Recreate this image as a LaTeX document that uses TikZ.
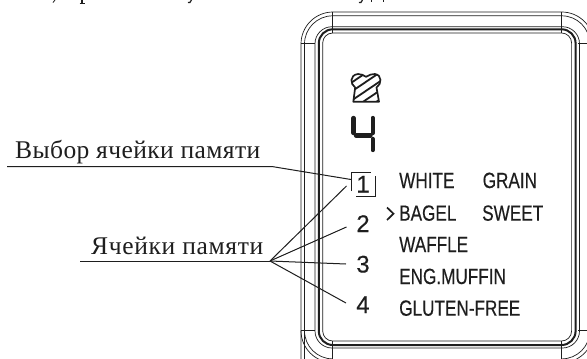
\documentclass[tikz,border=0pt]{standalone}
\usepackage{fontspec}
\setmainfont{Liberation Serif}
\setsansfont{Liberation Sans}
\newfontfamily\narrowfont[FakeStretch=0.78,FakeBold=0.3]{Liberation Sans}
\newfontfamily\digitfont[FakeBold=0.2]{Liberation Sans}
\newfontfamily\calloutA[LetterSpace=1.6]{Liberation Serif}
\newfontfamily\calloutB[LetterSpace=2.6]{Liberation Serif}
\definecolor{ink}{HTML}{1E1E1E}
\tikzset{
  thinl/.style={draw=ink,line width=0.7pt},
  thickl/.style={draw=ink,line width=2pt},
  leader/.style={draw=ink,line width=1pt},
  callout/.style={text=ink,inner sep=0pt,anchor=base west},
  digitlabel/.style={font=\digitfont\fontsize{24}{24}\selectfont,text=ink,inner sep=0pt,anchor=base},
  menu/.style={font=\narrowfont\fontsize{22}{22}\selectfont,text=ink,inner sep=0pt,anchor=base west},
  seg/.style={draw=ink,line width=4.4pt,line cap=round}
}
\begin{document}
\begin{tikzpicture}[x=1pt,y=-1pt]
\useasboundingbox (0,0) rectangle (587,359);
\clip (0,0) rectangle (587,359);
\fill[white] (0,0) rectangle (587,359);
% clipped text line above the picture
\draw[ink,line width=0.8pt] (53,2.5) -- (55,0);
\draw[ink,line width=1.2pt] (82,0) -- (82,2.6);
\draw[ink,line width=0.7pt] (79.5,3) -- (84.5,3);
\draw[ink,line width=1.2pt] (188,2.6) .. controls (190,2.8) .. (191.5,0);
\draw[ink,line width=1.2pt] (359,2.6) .. controls (361,2.8) .. (362.5,0);
\draw[ink,line width=0.7pt] (371,0) -- (371,1.5) (383,0) -- (383,1.5);
% case: outer pair of lines
\draw[thinl] (301,359) -- (301,44) arc[start angle=180,end angle=270,radius=32] -- (561.7,12) arc[start angle=270,end angle=360,radius=32] -- (593.7,330.7) arc[start angle=0,end angle=90,radius=32];
\draw[thinl] (304.5,359) -- (304.5,44) arc[start angle=180,end angle=270,radius=28.2] -- (561.7,15.8) arc[start angle=270,end angle=360,radius=28.2] -- (589.9,330.7) arc[start angle=0,end angle=90,radius=28.2];
\draw[thinl] (301,330.7) arc[start angle=180,end angle=90,radius=31.7];
\draw[thinl] (304.5,330.7) arc[start angle=180,end angle=90,radius=28.2];
% section lines
\draw[thinl] (301,43.5) -- (315,43.5) (332.7,12) -- (332.7,33);
\draw[thinl] (561.7,12) -- (561.7,33) (578,43.5) -- (587,43.5);
\draw[thinl] (301,330.7) -- (315,330.7) (332.7,341) -- (332.7,359);
\draw[thinl] (578,330.7) -- (587,330.7) (561.7,341) -- (561.7,359);
% case: inner lines
\draw[thinl,rounded corners=17pt] (315,26.7) rectangle (579.5,348);
\draw[thickl,rounded corners=14pt] (318.8,29.3) rectangle (575.6,345);
\draw[thinl,rounded corners=10pt] (322.7,33) rectangle (571.6,341);
% toast icon
\def\toast{(353.3,101.7) -- (355.2,87.5) .. controls (350,84) and (349.5,75) .. (358,74) .. controls (361,73.7) and (364,75.5) .. (366,76.8) .. controls (369,75) and (372,73.7) .. (375,74) .. controls (382,75) and (382,84) .. (376.5,87.5) -- (379,101.7) -- cycle}
\begin{scope}
\clip \toast;
\foreach \d in {0,9,18,27,36,45}{
  \draw[ink,line width=1.8pt] (345,{78+\d}) -- (385,{78+\d-27});
}
\end{scope}
\draw[ink,line width=1.7pt,line join=round] \toast;
% digit 4, seven segments
\draw[seg] (353.5,118) -- (353.5,133);
\draw[seg] (372.7,118) -- (372.7,133);
\draw[seg] (356,135.5) -- (370.5,135.5);
\draw[seg] (372.7,139) -- (372.7,150);
% callouts
\node[callout,font=\calloutA\fontsize{25.5}{25.5}\selectfont] (sel) at (15,158) {Выбор ячейки памяти};
\node[callout,font=\calloutB\fontsize{25.5}{25.5}\selectfont] (cells) at (91,254) {Ячейки памяти};
\coordinate (selA) at (7,166.7);
\coordinate (selB) at (273,166.7);
\coordinate (cellA) at (80,261);
\coordinate (cellB) at (270,261);
% digit labels
\node[digitlabel] (d1) at (363,192.5) {1};
\node[digitlabel] (d2) at (363,232) {2};
\node[digitlabel] (d3) at (363,272.5) {3};
\node[digitlabel] (d4) at (363,313) {4};
% selection box
\coordinate (boxTL) at (351,172);
\coordinate (boxTR) at (371,172);
\coordinate (boxBL) at (351,191);
\coordinate (boxRT) at (375.7,176);
\coordinate (boxRB) at (375.7,196);
\coordinate (boxBR) at (356,196);
\draw[thinl,line width=0.9pt] (boxBL) -- (boxTL) -- (boxTR);
\draw[thinl,line width=0.9pt] (boxRT) -- (boxRB) -- (boxBR);
% leaders
\coordinate (selEnd) at (351,179.5);
\coordinate (t1) at (346.5,186);
\coordinate (t2) at (346.5,227);
\coordinate (t3) at (346,264);
\coordinate (t4) at (346,303);
\draw[leader] (selA) -- (selB) -- (selEnd);
\draw[leader] (cellA) -- (cellB);
\draw[leader] (cellB) -- (t1);
\draw[leader] (cellB) -- (t2);
\draw[leader] (cellB) -- (t3);
\draw[leader] (cellB) -- (t4);
% menu
\node[menu] (white) at (399,188) {WHITE};
\node[menu] (grain) at (482.5,188) {GRAIN};
\node[menu] (bagel) at (399,220.7) {BAGEL};
\node[menu] (sweet) at (482,220.7) {SWEET};
\node[menu] (waffle) at (399,252) {WAFFLE};
\node[menu] (muffin) at (399,284) {ENG.MUFFIN};
\node[menu] (gluten) at (399,315.7) {GLUTEN-FREE};
\draw[ink,line width=1.7pt] (387,207.5) -- (393.5,213.7) -- (387,220);
\end{tikzpicture}
\end{document}
